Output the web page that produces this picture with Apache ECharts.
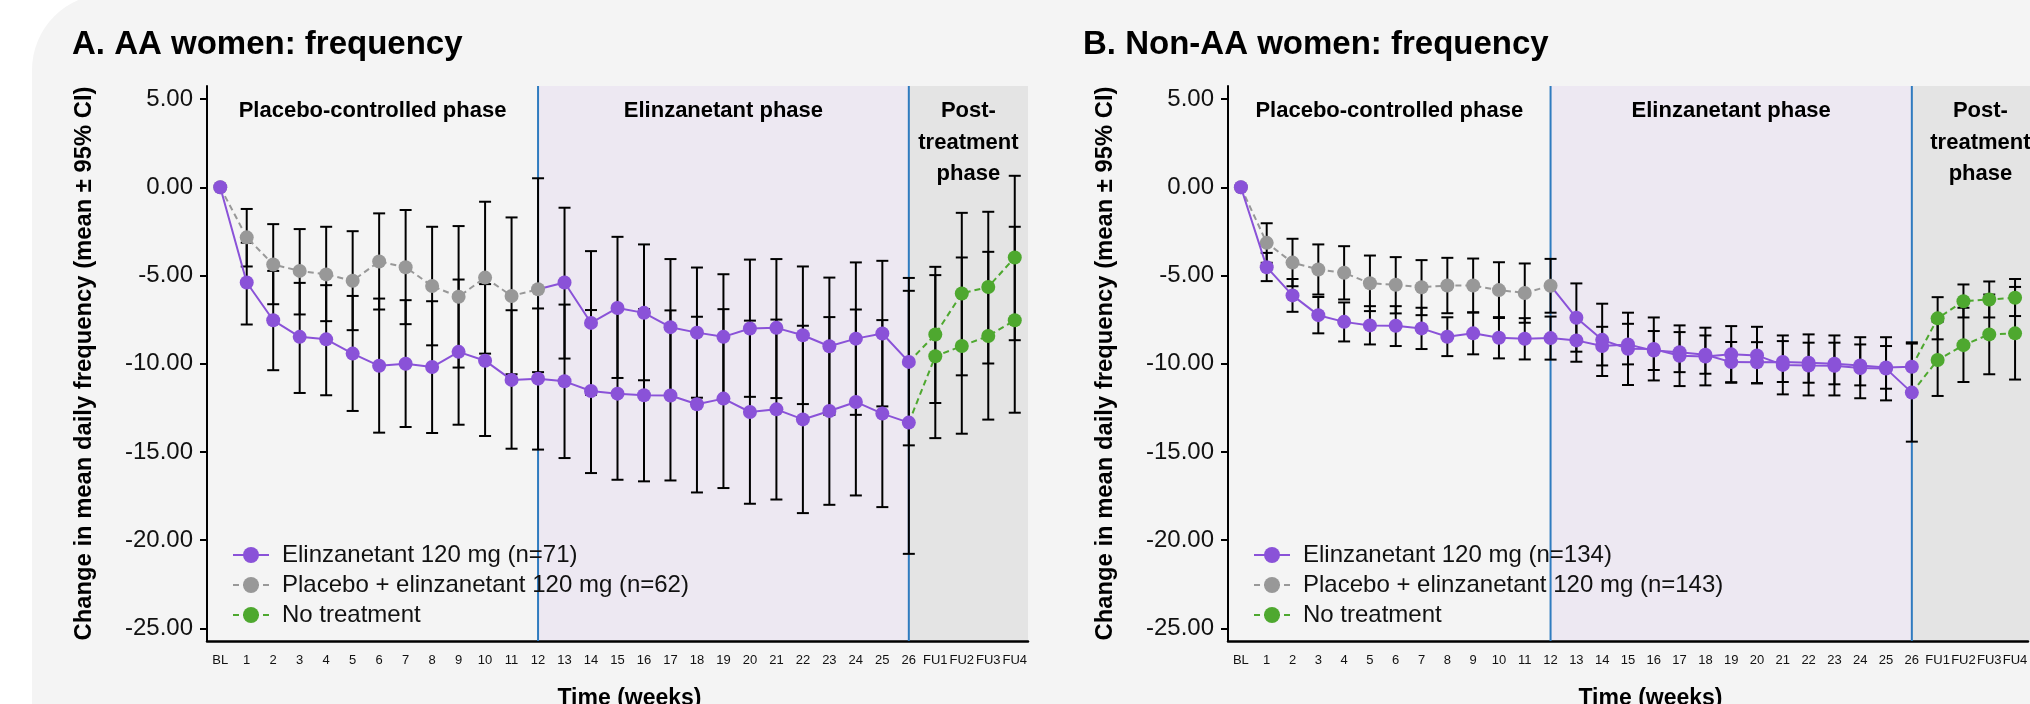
<!DOCTYPE html>
<html><head><meta charset="utf-8">
<script src="https://cdn.jsdelivr.net/npm/echarts@6/dist/echarts.min.js"></script>
<style>html,body{margin:0;padding:0;background:#fff}#c{width:2030px;height:704px}</style>
</head><body><div id="c"></div>
<script>
// ---------- categories & tick labels ----------
const weeks = ['BL','1','2','3','4','5','6','7','8','9','10','11','12','13','14','15','16','17','18','19','20','21','22','23','24','25','26','FU1','FU2','FU3','FU4'];
const yTicks = [5, 0, -5, -10, -15, -20, -25];

const titleA = 'A. AA women: frequency';
const titleB = 'B. Non-AA women: frequency';
const yName = 'Change in mean daily frequency (mean \u00b1 95% CI)';
const xName = 'Time (weeks)';
const phaseNames = ['Placebo-controlled phase', 'Elinzanetant phase', ['Post-', 'treatment', 'phase']];

const namesA = ['Elinzanetant 120 mg (n=71)', 'Placebo + elinzanetant 120 mg (n=62)', 'No treatment'];
const namesB = ['Elinzanetant 120 mg (n=134)', 'Placebo + elinzanetant 120 mg (n=143)', 'No treatment'];

// ---------- Panel A (AA women) ----------
// Elinzanetant group, BL..26
const aElzMean = [0, -5.40, -7.54, -8.48, -8.62, -9.43, -10.12, -10.00, -10.19, -9.33, -9.83, -10.92, -10.85, -11.00, -11.55, -11.70, -11.79, -11.80, -12.30, -11.98, -12.74, -12.59, -13.16, -12.68, -12.17, -12.83, -13.34];
const aElzLo = [null, -7.78, -10.37, -11.66, -11.79, -12.68, -13.91, -13.59, -13.93, -13.46, -14.10, -14.82, -14.87, -15.35, -16.20, -16.58, -16.67, -16.62, -17.30, -17.05, -17.94, -17.70, -18.47, -18.00, -17.47, -18.13, -20.78];
const aElzHi = [null, -3.14, -4.74, -5.42, -5.55, -6.16, -6.31, -6.40, -6.46, -5.23, -5.49, -6.97, -6.87, -6.65, -6.96, -6.82, -6.91, -6.98, -7.34, -6.91, -7.56, -7.50, -7.85, -7.36, -6.93, -7.53, -5.87];
// Placebo group, BL..12
const aPboMean = [0, -2.84, -4.38, -4.74, -4.94, -5.30, -4.21, -4.53, -5.60, -6.21, -5.12, -6.16, -5.78];
const aPboLo = [null, -4.49, -6.63, -7.21, -7.59, -8.10, -6.93, -7.76, -8.96, -10.22, -9.43, -10.60, -10.48];
const aPboHi = [null, -1.23, -2.09, -2.37, -2.24, -2.49, -1.48, -1.29, -2.24, -2.20, -0.82, -1.71, 0.51];
// Placebo -> elinzanetant, weeks 13..26
const aSwMean = [-5.40, -7.69, -6.84, -7.12, -7.93, -8.24, -8.48, -8.01, -7.97, -8.39, -9.01, -8.58, -8.29, -9.90];
const aSwLo = [-9.71, -11.76, -10.81, -10.94, -11.80, -11.93, -12.03, -11.88, -11.95, -12.29, -12.90, -12.90, -12.42, -14.63];
const aSwHi = [-1.16, -3.62, -2.81, -3.24, -4.07, -4.55, -4.93, -4.10, -4.07, -4.49, -5.12, -4.26, -4.17, -5.14];
// No treatment, FU1..FU4 (after switch group / after elinzanetant group)
const aFuSwMean = [-8.35, -6.02, -5.65, -3.98];
const aFuSwLo = [-12.23, -10.66, -9.99, -8.67];
const aFuSwHi = [-4.51, -1.45, -1.39, 0.65];
const aFuElzMean = [-9.58, -9.00, -8.43, -7.54];
const aFuElzLo = [-14.22, -13.97, -13.17, -12.78];
const aFuElzHi = [-4.98, -3.98, -3.66, -2.24];

// ---------- Panel B (Non-AA women) ----------
const bElzMean = [0, -4.53, -6.13, -7.25, -7.63, -7.83, -7.85, -8.00, -8.47, -8.28, -8.53, -8.59, -8.55, -8.68, -9.00, -8.91, -9.26, -9.35, -9.49, -9.91, -9.92, -9.90, -9.95, -10.00, -10.10, -10.22, -10.17];
const bElzLo = [null, -5.32, -7.06, -8.28, -8.74, -8.91, -9.00, -9.17, -9.57, -9.47, -9.70, -9.76, -9.77, -9.89, -10.10, -10.04, -10.36, -10.48, -10.57, -11.05, -11.10, -11.04, -11.08, -11.17, -11.23, -11.42, -11.55];
const bElzHi = [null, -3.72, -5.20, -6.22, -6.53, -6.74, -6.74, -6.83, -7.37, -7.09, -7.36, -7.42, -7.33, -7.49, -7.91, -7.74, -8.15, -8.21, -8.40, -8.77, -8.78, -8.72, -8.81, -8.81, -8.91, -9.00, -8.79];
const bPboMean = [0, -3.15, -4.27, -4.66, -4.85, -5.44, -5.53, -5.67, -5.57, -5.57, -5.83, -5.99, -5.58];
const bPboLo = [null, -4.28, -5.61, -6.08, -6.36, -7.02, -7.15, -7.25, -7.14, -7.10, -7.41, -7.68, -7.11];
const bPboHi = [null, -2.04, -2.92, -3.24, -3.34, -3.87, -3.96, -4.13, -4.00, -4.04, -4.25, -4.32, -4.06];
const bSwMean = [-7.40, -8.65, -9.15, -9.17, -9.55, -9.60, -9.47, -9.53, -10.07, -10.10, -10.12, -10.25, -10.28, -11.64];
const bSwLo = [-9.32, -10.70, -11.21, -10.95, -11.27, -11.23, -11.08, -11.12, -11.74, -11.80, -11.80, -11.96, -12.08, -14.42];
const bSwHi = [-5.45, -6.60, -7.11, -7.38, -7.83, -7.96, -7.87, -7.91, -8.40, -8.34, -8.40, -8.50, -8.50, -8.86];
const bFuElzMean = [-7.43, -6.46, -6.36, -6.26];
const bFuElzLo = [-8.62, -7.38, -7.38, -7.30];
const bFuElzHi = [-6.23, -5.51, -5.34, -5.20];
const bFuSwMean = [-9.79, -8.95, -8.34, -8.28];
const bFuSwLo = [-11.83, -11.04, -10.60, -10.90];
const bFuSwHi = [-7.62, -6.83, -6.08, -5.65];

// ---------- style ----------
const FONT = 'Liberation Sans';
const PURPLE = '#8a52d8', GRAY = '#989898', GREEN = '#4ea82f', BLUE = '#2f7bbf';
const LAV = '#ede8f2', POSTBG = '#e4e4e4', PANEL = '#f4f4f4';
const N = weeks.length;
const I12 = weeks.indexOf('12'), I26 = weeks.indexOf('26'), IFU1 = weeks.indexOf('FU1');

function full(offset, arr) { const a = new Array(N).fill(null); arr.forEach((v, i) => { a[offset + i] = v; }); return a; }
function startNoSym(a, idx) { return a.map((v, i) => (i === idx && v != null) ? { value: v, symbol: 'none' } : v); }

function lineS(name, g, data, color, dashed, z) {
  return { type: 'line', name, xAxisIndex: g, yAxisIndex: g, data, symbol: 'circle', symbolSize: 14,
    showAllSymbol: true, connectNulls: false, animation: false, z: z,
    itemStyle: { color }, lineStyle: { color, width: 2, type: dashed ? [6, 4] : 'solid' },
    emphasis: { disabled: true } };
}
function errS(g, lo, hi) {
  const data = [];
  lo.forEach((l, i) => { if (l != null && hi[i] != null) data.push([i, l, hi[i]]); });
  return { type: 'custom', xAxisIndex: g, yAxisIndex: g, data, z: 3, animation: false, silent: true,
    encode: { x: 0, y: [1, 2] },
    renderItem: (p, api) => {
      const x = api.value(0);
      const a = api.coord([x, api.value(1)]), b = api.coord([x, api.value(2)]);
      const w = 6, st = { stroke: '#000', lineWidth: 2 };
      return { type: 'group', children: [
        { type: 'line', shape: { x1: a[0], y1: a[1], x2: b[0], y2: b[1] }, style: st },
        { type: 'line', shape: { x1: a[0] - w, y1: a[1], x2: a[0] + w, y2: a[1] }, style: st },
        { type: 'line', shape: { x1: b[0] - w, y1: b[1], x2: b[0] + w, y2: b[1] }, style: st }
      ] };
    } };
}

function panelSeries(g, names, elzM, elzL, elzH, pboM, pboL, pboH, swM, swL, swH,
                     fuSwM, fuSwL, fuSwH, fuElzM, fuElzL, fuElzH) {
  const elz = full(0, elzM);
  const pbo = full(0, pboM);
  const sw = startNoSym(full(I12, [pboM[I12]].concat(swM)), I12);
  const swLast = swM[swM.length - 1], elzLast = elzM[I26];
  const g1 = startNoSym(full(I26, [swLast].concat(fuSwM)), I26);
  const g2 = startNoSym(full(I26, [elzLast].concat(fuElzM)), I26);
  return [
    errS(g, full(0, elzL), full(0, elzH)),
    errS(g, full(0, pboL), full(0, pboH)),
    errS(g, full(I12 + 1, swL), full(I12 + 1, swH)),
    errS(g, full(IFU1, fuSwL), full(IFU1, fuSwH)),
    errS(g, full(IFU1, fuElzL), full(IFU1, fuElzH)),
    lineS(names[2], g, g1, GREEN, true, 4),
    lineS(names[2], g, g2, GREEN, true, 4),
    lineS(names[1], g, pbo, GRAY, true, 5),
    lineS(names[0], g, sw, PURPLE, false, 5),
    lineS(names[0], g, elz, PURPLE, false, 6)
  ];
}

const grids = [
  { left: 207, top: 86, width: 821, height: 555 },
  { left: 1228, top: 86, width: 821, height: 555 }
];
function xAx(g) {
  return { type: 'category', gridIndex: g, data: weeks, boundaryGap: true,
    axisLine: { onZero: false, lineStyle: { color: '#000', width: 2.5 } },
    axisTick: { alignWithLabel: true, interval: 0, length: 7, lineStyle: { color: '#000', width: 2 } },
    axisLabel: { interval: 0, color: '#111', fontSize: 13, fontFamily: FONT, margin: 13 },
    splitLine: { show: false } };
}
function yAx(g) {
  return { type: 'value', gridIndex: g, min: -25.72, max: 5.74,
    axisLine: { show: true, onZero: false, lineStyle: { color: '#000', width: 2 } },
    axisTick: { show: true, length: 7, customValues: yTicks, lineStyle: { color: '#000', width: 2 } },
    axisLabel: { customValues: yTicks, color: '#111', fontSize: 24, fontFamily: FONT, margin: 14,
      formatter: v => v.toFixed(2) },
    splitLine: { show: false } };
}
function legendFor(g, names) {
  return { orient: 'vertical', left: grids[g].left + 25, top: 543, padding: 0, itemGap: 6,
    itemWidth: 36, itemHeight: 20, data: names, selectedMode: false,
    textStyle: { color: '#111', fontSize: 24, fontFamily: FONT, padding: [0, 0, 0, 8] } };
}

const chart = echarts.init(document.getElementById('c'), null, { renderer: 'canvas' });
chart.setOption({
  animation: false,
  backgroundColor: '#ffffff',
  grid: grids,
  xAxis: [xAx(0), xAx(1)],
  yAxis: [yAx(0), yAx(1)],
  legend: [legendFor(0, namesA), legendFor(1, namesB)],
  series: [].concat(
    panelSeries(0, namesA, aElzMean, aElzLo, aElzHi, aPboMean, aPboLo, aPboHi, aSwMean, aSwLo, aSwHi,
      aFuSwMean, aFuSwLo, aFuSwHi, aFuElzMean, aFuElzLo, aFuElzHi),
    panelSeries(1, namesB, bElzMean, bElzLo, bElzHi, bPboMean, bPboLo, bPboHi, bSwMean, bSwLo, bSwHi,
      bFuSwMean, bFuSwLo, bFuSwHi, bFuElzMean, bFuElzLo, bFuElzHi)
  )
});

// ---------- backgrounds, phase lines & texts from axis scales ----------
const gr = [];
gr.push({ type: 'rect', z: -30, silent: true, shape: { x: 32, y: -6, width: 2200, height: 900, r: [76, 0, 0, 0] }, style: { fill: PANEL } });
const titles = [titleA, titleB], titleX = [72, 1083];
[0, 1].forEach(g => {
  const G = grids[g];
  const top = G.top, bot = G.top + G.height, right = G.left + G.width;
  const x12 = chart.convertToPixel({ xAxisIndex: g }, I12);
  const x26 = chart.convertToPixel({ xAxisIndex: g }, I26);
  gr.push({ type: 'rect', z: -20, silent: true, shape: { x: x12, y: top, width: x26 - x12, height: bot - top }, style: { fill: LAV } });
  gr.push({ type: 'rect', z: -20, silent: true, shape: { x: x26, y: top, width: right - x26, height: bot - top }, style: { fill: POSTBG } });
  [x12, x26].forEach(x => gr.push({ type: 'line', z: 1, silent: true, shape: { x1: x, y1: top, x2: x, y2: bot }, style: { stroke: BLUE, lineWidth: 2 } }));
  const pf = 'bold 22px "' + FONT + '"';
  const tx = (t, x, y) => ({ type: 'text', z: 20, silent: true, x, y, style: { text: t, font: pf, fill: '#000', align: 'center', verticalAlign: 'middle' } });
  gr.push(tx(phaseNames[0], (G.left + x12) / 2, 110.5));
  gr.push(tx(phaseNames[1], (x12 + x26) / 2, 110.5));
  phaseNames[2].forEach((t, i) => gr.push(tx(t, (x26 + right) / 2, 111 + i * 31.7)));
  gr.push({ type: 'text', z: 20, silent: true, x: titleX[g], y: 45, style: { text: titles[g], font: 'bold 33px "' + FONT + '"', fill: '#000', align: 'left', verticalAlign: 'middle' } });
  gr.push({ type: 'text', z: 20, silent: true, x: G.left - 123, y: G.top + G.height / 2, rotation: Math.PI / 2,
    style: { text: yName, font: 'bold 23.8px "' + FONT + '"', fill: '#000', align: 'center', verticalAlign: 'middle' } });
  gr.push({ type: 'text', z: 20, silent: true, x: G.left + G.width / 2 + 12, y: 699,
    style: { text: xName, font: 'bold 23px "' + FONT + '"', fill: '#000', align: 'center', verticalAlign: 'middle' } });
});
chart.setOption({ graphic: gr });
</script>
</body></html>
